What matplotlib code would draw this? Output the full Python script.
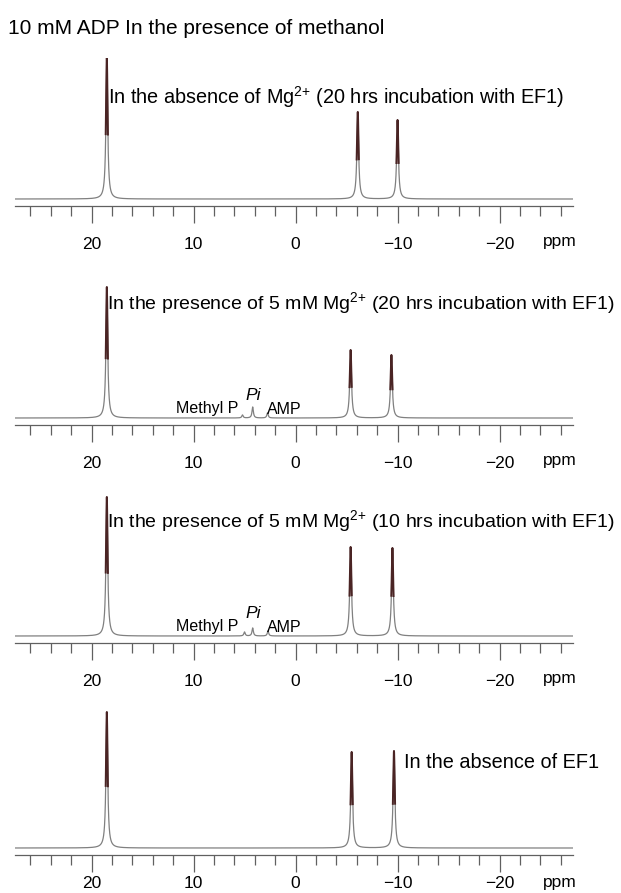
import numpy as np
import matplotlib
matplotlib.use("Agg")
import matplotlib.pyplot as plt

plt.rcParams['font.family'] = ['Liberation Sans', 'DejaVu Sans']
plt.rcParams['mathtext.fontset'] = 'custom'
plt.rcParams['mathtext.rm'] = 'Liberation Sans'
plt.rcParams['mathtext.it'] = 'Liberation Sans:italic'

# peak positions (ppm), heights (arb.) for each spectrum
p1_pos = [18.5, -6.1, -10.0]
p1_h = [142, 87, 79]
p2_pos = [18.5, -5.4, -9.4, 5.2, 4.2, 2.75]
p2_h = [131, 68, 63, 3, 11, 5]
p3_pos = [18.5, -5.4, -9.5, 5.0, 4.2, 2.7]
p3_h = [139, 89, 88, 4, 8, 5]
p4_pos = [18.5, -5.5, -9.65]
p4_h = [136, 96, 97]
hw_big = 0.1
hw_small = 0.08

title = "10 mM ADP In the presence of methanol"
labels = [
    r"In the absence of Mg$^{\mathregular{2{+}}}$ (20 hrs incubation with EF1)",
    r"In the presence of 5 mM Mg$^{\mathregular{2{+}}}$ (20 hrs incubation with EF1)",
    r"In the presence of 5 mM Mg$^{\mathregular{2{+}}}$ (10 hrs incubation with EF1)",
    "In the absence of EF1",
]
label_size = [14.3, 14, 14, 14.3]
major_ticks = [20, 10, 0, -10, -20]
tick_labels = ["20", "10", "0", "\u221210", "\u221220"]

W, H = 621, 893
fig = plt.figure(figsize=(W / 100, H / 100), dpi=100)
fig.text(8 / W, 1 - 28 / H, title, fontsize=15, va='center', ha='left')

x = np.linspace(27.5, -27.2, 30000)

def spectrum(pos, h):
    y = np.zeros_like(x)
    for i, (p0, a) in enumerate(zip(pos, h)):
        w = hw_big if i < 3 else hw_small
        y += a * w**2 / ((x - p0)**2 + w**2)
    return y

# axis line y, top of axes, tick label pad, ppm offset (px)
panels = [
    (p1_pos, p1_h, 206, 58, 10, 36),
    (p2_pos, p2_h, 425, 280, 10, 36),
    (p3_pos, p3_h, 643, 494, 10, 36),
    (p4_pos, p4_h, 855, 708, 3, 28),
]
label_xy = [(108, 97), (107, 303), (107, 521), (404, 763)]

for k, (pos, h, yaxis, ytop, pad, ppm_off) in enumerate(panels):
    left, right = 15, 573
    ax = fig.add_axes([left / W, 1 - yaxis / H, (right - left) / W, (yaxis - ytop) / H])
    y = spectrum(pos, h)
    gap = 7
    ax.set_xlim(27.5, -27.2)
    ax.set_ylim(-gap, (yaxis - ytop) - gap)
    ax.plot(x, y, color='#808080', lw=0.9)
    # darker tops of the main lines
    dark = np.zeros_like(x, dtype=bool)
    for p0 in pos[:3]:
        dark |= np.abs(x - p0) < 0.11
    ax.plot(x, np.where(dark, y, np.nan), color='#4a2424', lw=1.4)
    for s in ['top', 'right', 'left']:
        ax.spines[s].set_visible(False)
    ax.spines['bottom'].set_color('#606060')
    ax.spines['bottom'].set_linewidth(0.9)
    ax.set_yticks([])
    ax.set_xticks(major_ticks)
    ax.set_xticklabels(tick_labels, fontsize=12.5)
    ax.set_xticks(np.arange(-26, 27, 2), minor=True)
    ax.tick_params(axis='x', which='major', length=12, width=0.9, color='#606060', pad=pad)
    ax.tick_params(axis='x', which='minor', length=7, width=0.9, color='#606060')
    fig.text(560 / W, 1 - (yaxis + ppm_off) / H, "ppm", fontsize=12.5, ha='center', va='center')
    lx, ly = label_xy[k]
    fig.text(lx / W, 1 - ly / H, labels[k], fontsize=label_size[k], ha='left', va='center')
    if k in (1, 2):
        base = yaxis - 7
        fig.text(207 / W, 1 - (base - 9) / H, "Methyl P", fontsize=11.5, ha='center', va='center')
        fig.text(253 / W, 1 - (base - 23) / H, "Pi", fontsize=12.5,
                 style='italic', ha='center', va='center')
        fig.text(284 / W, 1 - (base - 9) / H, "AMP", fontsize=11.5, ha='center', va='center')

fig.savefig("out.png", dpi=100)
